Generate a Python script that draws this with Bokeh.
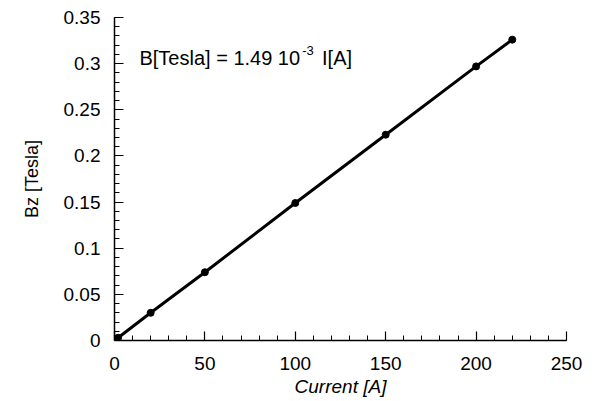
import numpy as np
from bokeh.plotting import figure
from bokeh.models import Range1d, FixedTicker, Label, ColumnDataSource
from bokeh.embed import file_html
from bokeh.resources import INLINE

# Data
current_A = [2, 20, 50, 100, 150, 200, 220]
bz_tesla = [0.003, 0.030, 0.074, 0.149, 0.223, 0.297, 0.326]

x_ticks = [0, 50, 100, 150, 200, 250]
x_tick_labels = ["0", "50", "100", "150", "200", "250"]
y_ticks = [0, 0.05, 0.1, 0.15, 0.2, 0.25, 0.3, 0.35]
y_tick_labels = ["0", "0.05", "0.1", "0.15", "0.2", "0.25", "0.3", "0.35"]

x_label = "Current [A]"
y_label = "Bz [Tesla]"
eq_main = "B[Tesla] = 1.49 10"
eq_sup = "-3"
eq_tail = "I[A]"

FONT = "Liberation Sans"

p = figure(width=596, height=401, output_backend="svg", toolbar_location=None,
           x_range=Range1d(0, 250), y_range=Range1d(0, 0.35),
           min_border_left=114, min_border_right=30, min_border_top=17,
           min_border_bottom=61)
p.grid.visible = False
p.outline_line_color = None
p.background_fill_color = "white"
p.border_fill_color = "white"

src = ColumnDataSource(dict(x=current_A, y=bz_tesla))
p.line("x", "y", source=src, line_color="black", line_width=3)
p.scatter("x", "y", source=src, size=7, fill_color="black", line_color="black")

x_minor = list(np.arange(0, 251, 10))
y_minor = [round(v, 3) for v in np.arange(0, 0.3501, 0.01)]

for ax, ticks, labels, minor in ((p.xaxis[0], x_ticks, x_tick_labels, x_minor),
                                 (p.yaxis[0], y_ticks, y_tick_labels, y_minor)):
    ax.ticker = FixedTicker(ticks=ticks, minor_ticks=minor)
    ax.major_label_overrides = {t: l for t, l in zip(ticks, labels)}
    ax.axis_line_color = "black"
    ax.axis_line_width = 1.5
    ax.major_tick_in = 9
    ax.major_tick_out = 0
    ax.minor_tick_in = 5
    ax.minor_tick_out = 0
    ax.major_tick_line_color = "black"
    ax.minor_tick_line_color = "black"
    ax.major_tick_line_width = 1.2
    ax.minor_tick_line_width = 1
    ax.major_label_text_font = FONT
    ax.major_label_text_font_size = "19px"
    ax.major_label_text_color = "black"
    ax.axis_label_text_font = FONT
    ax.axis_label_text_color = "black"

p.xaxis[0].major_label_standoff = 16
p.yaxis[0].major_label_standoff = 14

p.xaxis[0].axis_label = x_label
p.xaxis[0].axis_label_text_font_size = "19px"
p.xaxis[0].axis_label_text_font_style = "italic"
p.xaxis[0].axis_label_standoff = 3

p.yaxis[0].axis_label = y_label
p.yaxis[0].axis_label_text_font_size = "18px"
p.yaxis[0].axis_label_text_font_style = "normal"
p.yaxis[0].axis_label_standoff = 19

# Equation annotation
p.add_layout(Label(x=13.8, y=0.3056, text=eq_main, text_font=FONT,
                   text_font_size="20px", text_align="left",
                   text_baseline="alphabetic", text_color="black"))
p.add_layout(Label(x=103.8, y=0.3144, text=eq_sup, text_font=FONT,
                   text_font_size="13px", text_align="left",
                   text_baseline="alphabetic", text_color="black"))
p.add_layout(Label(x=114.8, y=0.3056, text=eq_tail, text_font=FONT,
                   text_font_size="20px", text_align="left",
                   text_baseline="alphabetic", text_color="black"))

open("out.html", "w").write(file_html(p, INLINE))
